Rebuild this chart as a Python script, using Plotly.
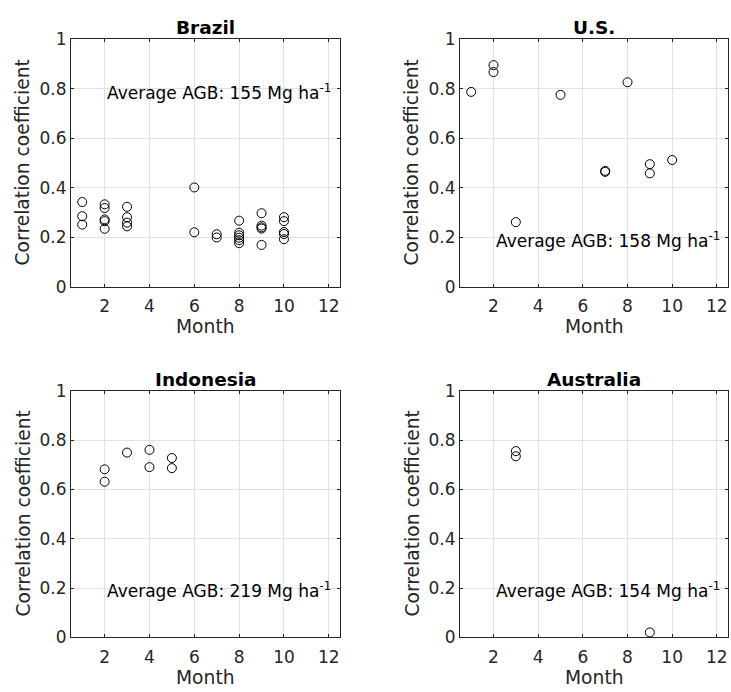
import plotly.graph_objects as go

W, H = 731, 692

# data
countries = ["Brazil", "U.S.", "Indonesia", "Australia"]
agb = [155, 158, 219, 154]

brazil_month = [1, 1, 1, 2, 2, 2, 2, 2, 3, 3, 3, 3, 6, 6, 7, 7,
                8, 8, 8, 8, 8, 8, 9, 9, 9, 9, 9, 10, 10, 10, 10, 10]
brazil_corr = [0.342, 0.285, 0.251, 0.333, 0.318, 0.272, 0.265, 0.234,
               0.323, 0.281, 0.259, 0.244, 0.401, 0.220, 0.212, 0.199,
               0.267, 0.218, 0.208, 0.198, 0.188, 0.176,
               0.297, 0.247, 0.240, 0.235, 0.169,
               0.281, 0.265, 0.221, 0.213, 0.192]

us_month = [1, 2, 2, 3, 5, 7, 7, 8, 9, 9, 10]
us_corr = [0.787, 0.895, 0.867, 0.261, 0.775, 0.468, 0.464, 0.826, 0.495, 0.458, 0.512]

indonesia_month = [2, 2, 3, 4, 4, 5, 5]
indonesia_corr = [0.681, 0.631, 0.749, 0.760, 0.690, 0.727, 0.686]

australia_month = [3, 3, 9]
australia_corr = [0.755, 0.734, 0.020]

text_x = 2
text_y = [0.785, 0.19, 0.19, 0.19]

x_ticks = [2, 4, 6, 8, 10, 12]
y_ticks = [0, 0.2, 0.4, 0.6, 0.8, 1]
y_ticktext = ["0", "0.2", "0.4", "0.6", "0.8", "1"]

series = [(brazil_month, brazil_corr), (us_month, us_corr),
          (indonesia_month, indonesia_corr), (australia_month, australia_corr)]

# panel boxes in pixels: left, right, top, bottom
boxes = [(71, 340, 30, 285), (460, 728, 30, 285),
         (71, 340, 392, 646), (460, 728, 392, 646)]

FONT = "DejaVu Sans"
AX = "#262626"

fig = go.Figure()
layout = dict(
    width=W, height=H,
    margin=dict(l=0, r=0, t=0, b=0),
    paper_bgcolor="white", plot_bgcolor="white",
    showlegend=False,
    font=dict(family=FONT, size=17, color=AX),
    annotations=[],
)

for i, ((mx, my), (l, r, t, b)) in enumerate(zip(series, boxes)):
    n = "" if i == 0 else str(i + 1)
    fig.add_trace(go.Scatter(
        x=mx, y=my, mode="markers",
        marker=dict(symbol="circle-open", size=9, color="black", line=dict(width=1)),
        xaxis="x" + n, yaxis="y" + n,
    ))
    common = dict(
        showline=True, linecolor=AX, linewidth=1, mirror="ticks",
        ticks="inside", ticklen=3, tickcolor=AX,
        showgrid=True, gridcolor="#e2e2e2", gridwidth=1,
        zeroline=False, tickfont=dict(family=FONT, size=17, color=AX),
    )
    layout["xaxis" + n] = dict(
        common, domain=[l / W, r / W], range=[0.5, 12.5],
        tickvals=x_ticks, anchor="y" + n, ticklabelstandoff=4,
    )
    layout["yaxis" + n] = dict(
        common, domain=[1 - b / H, 1 - t / H], range=[0, 1],
        tickvals=y_ticks, ticktext=y_ticktext, anchor="x" + n,
    )
    cx = (l + r) / 2 / W
    # panel title
    layout["annotations"].append(dict(
        text="<b>%s</b>" % countries[i], x=cx, y=1 - t / H, xref="paper", yref="paper",
        xanchor="center", yanchor="bottom", showarrow=False, yshift=-1,
        font=dict(family=FONT, size=18.5, color="black"),
    ))
    # x label
    layout["annotations"].append(dict(
        text="Month", x=cx, y=1 - (b + 28) / H, xref="paper", yref="paper",
        xanchor="center", yanchor="top", showarrow=False,
        font=dict(family=FONT, size=18.7, color=AX),
    ))
    # y label
    layout["annotations"].append(dict(
        text="Correlation coefficient", x=(l - 48.5) / W, y=1 - (t + b) / 2 / H,
        xref="paper", yref="paper", xanchor="center", yanchor="middle",
        textangle=-90, showarrow=False,
        font=dict(family=FONT, size=18.7, color=AX),
    ))
    # AGB note
    layout["annotations"].append(dict(
        text="Average AGB: %d Mg ha<sup>-1</sup>" % agb[i], x=text_x, y=text_y[i],
        xref="x" + n, yref="y" + n, xanchor="left", yanchor="middle",
        showarrow=False, font=dict(family=FONT, size=17, color="black"),
    ))

fig.update_layout(**layout)
fig.write_html("out.html", config={"displayModeBar": False},
               post_script="document.body.style.margin='0';document.body.style.overflow='hidden';")
